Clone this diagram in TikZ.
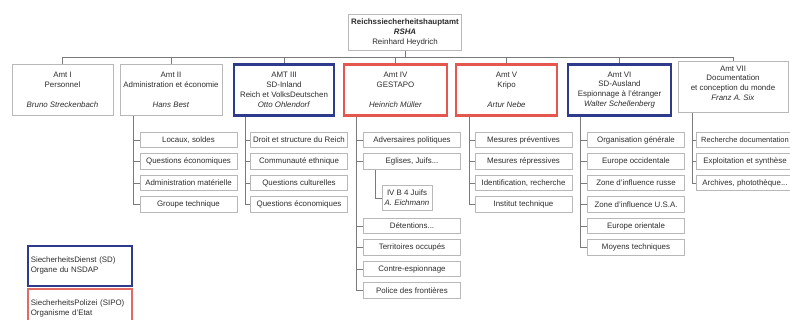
\documentclass[tikz,border=0pt]{standalone}
\usepackage{fontspec}
\setmainfont{Liberation Sans}
\usetikzlibrary{calc}
\definecolor{sdblue}{HTML}{2E3A8C}
\definecolor{sipored}{HTML}{E4574F}
\definecolor{legred}{HTML}{E06A66}
\definecolor{boxgray}{HTML}{B8B8B8}
\definecolor{linegray}{HTML}{7A7A7A}
\definecolor{txt}{HTML}{2E2E2E}
\begin{document}
\begin{tikzpicture}[x=1pt,y=-1pt,
  every node/.style={font=\fontsize{7.9}{9.8}\selectfont, text=txt},
  graybox/.style={draw=boxgray, line width=0.9pt, fill=white, inner sep=0pt, align=center},
  amtbox/.style={graybox, minimum height=51pt},
  sdbox/.style={amtbox, draw=sdblue, line width=2.2pt},
  sipobox/.style={amtbox, draw=sipored, line width=2.2pt},
  itembox/.style={graybox, minimum width=97pt, minimum height=15.5pt},
  conn/.style={draw=linegray, line width=0.8pt},
]
\useasboundingbox (0,0) rectangle (790,320);
\clip (0,0) rectangle (790,320);
\fill[white] (0,0) rectangle (790,320);

% top
\node[graybox, minimum width=113pt, minimum height=36pt] (top) at (405,32.5)
  {\textbf{Reichssiecherheitshauptamt}\\\textbf{\textit{RSHA}}\\Reinhard Heydrich};

% Amt boxes
\node[amtbox, minimum width=101pt] (amt1) at (62.5,90)
  {Amt I\\Personnel\\\mbox{}\\\textit{Bruno Streckenbach}};
\node[amtbox, minimum width=102pt] (amt2) at (171,90)
  {Amt II\\Administration et économie\\\mbox{}\\\textit{Hans Best}};
\node[sdbox, minimum width=100pt] (amt3) at (284,90)
  {AMT III\\SD-Inland\\Reich et VolksDeutschen\\\textit{Otto Ohlendorf}};
\node[sipobox, minimum width=103pt] (amt4) at (395.5,90)
  {Amt IV\\GESTAPO\\\mbox{}\\\textit{Heinrich Müller}};
\node[sipobox, minimum width=101pt] (amt5) at (506.5,90)
  {Amt V\\Kripo\\\mbox{}\\\textit{Artur Nebe}};
\node[sdbox, minimum width=103pt] (amt6) at (619.5,90)
  {Amt VI\\SD-Ausland\\Espionnage à l'étranger\\\textit{Walter Schellenberg}};
\node[amtbox, minimum width=110pt, text depth=8pt] (amt7) at (733,87)
  {Amt VII\\Documentation\\et conception du monde\\\textit{Franz A. Six}};

\coordinate (bus) at (403,57);
\foreach \a in {amt1,amt2,amt3,amt4,amt5,amt6,amt7}
  \draw[conn] (top.south) -- (top.south |- bus) -| (\a.north);

% column coordinates
\coordinate (c2) at (133,0);
\coordinate (c3) at (245,0);
\coordinate (c4) at (356,0);
\coordinate (c5) at (469,0);
\coordinate (c6) at (580,0);
\coordinate (c7) at (692,0);

% Amt II items
\node[itembox] (i21) at (188.5,140) {Locaux, soldes};
\node[itembox] (i22) at (188.5,161.5) {Questions économiques};
\node[itembox] (i23) at (188.5,183) {Administration matérielle};
\node[itembox] (i24) at (188.5,204.5) {Groupe technique};
% Amt III items
\node[itembox] (i31) at (299,140) {Droit et structure du Reich};
\node[itembox] (i32) at (299,161.5) {Communauté ethnique};
\node[itembox] (i33) at (299,183) {Questions culturelles};
\node[itembox] (i34) at (299,204.5) {Questions économiques};
% Amt IV items
\node[itembox] (i41) at (412,140) {Adversaires politiques};
\node[itembox] (i42) at (412,161.5) {Eglises, Juifs...};
\node[graybox, minimum width=50pt, minimum height=25pt] (ivb4) at (407,198)
  {IV B 4 Juifs\\\textit{A. Eichmann}};
\node[itembox] (i43) at (412,226) {Détentions...};
\node[itembox] (i44) at (412,247.5) {Territoires occupés};
\node[itembox] (i45) at (412,269) {Contre-espionnage};
\node[itembox] (i46) at (412,290.5) {Police des frontières};
% Amt V items
\node[itembox] (i51) at (523.5,140) {Mesures préventives};
\node[itembox] (i52) at (523.5,161.5) {Mesures répressives};
\node[itembox] (i53) at (523.5,183) {Identification, recherche};
\node[itembox] (i54) at (523.5,204.5) {Institut technique};
% Amt VI items
\node[itembox] (i61) at (636,140) {Organisation générale};
\node[itembox] (i62) at (636,161.5) {Europe occidentale};
\node[itembox] (i63) at (636,183) {Zone d'influence russe};
\node[itembox] (i64) at (636,204.5) {Zone d'influence U.S.A.};
\node[itembox] (i65) at (636,226) {Europe orientale};
\node[itembox] (i66) at (636,247.5) {Moyens techniques};
% Amt VII items
\node[itembox] (i71) at (745,140) {\fontsize{7.5}{9.8}\selectfont Recherche documentation};
\node[itembox] (i72) at (745,161.5) {Exploitation et synthèse};
\node[itembox] (i73) at (745,183) {Archives, photothèque...};

% column connectors
\draw[conn] (amt2.south -| c2) |- (i24.west);
\foreach \i in {i21,i22,i23} \draw[conn] (\i.west -| c2) -- (\i.west);
\draw[conn] (amt3.south -| c3) |- (i34.west);
\foreach \i in {i31,i32,i33} \draw[conn] (\i.west -| c3) -- (\i.west);
\draw[conn] (amt4.south -| c4) |- (i46.west);
\foreach \i in {i41,i42,i43,i44,i45} \draw[conn] (\i.west -| c4) -- (\i.west);
\draw[conn] (amt5.south -| c5) |- (i54.west);
\foreach \i in {i51,i52,i53} \draw[conn] (\i.west -| c5) -- (\i.west);
\draw[conn] (amt6.south -| c6) |- (i66.west);
\foreach \i in {i61,i62,i63,i64,i65} \draw[conn] (\i.west -| c6) -- (\i.west);
\draw[conn] (amt7.south -| c7) |- (i73.west);
\foreach \i in {i71,i72} \draw[conn] (\i.west -| c7) -- (\i.west);
\coordinate (c42) at (375,0);
\draw[conn] (i42.south -| c42) |- (ivb4.west);

% legend
\node[draw=sdblue, line width=1.6pt, fill=white, anchor=north west, text width=98pt,
  align=left, inner sep=3pt, minimum height=40pt] (legsd) at (27,245)
  {SiecherheitsDienst (SD)\\Organe du NSDAP};
\node[draw=legred, line width=1.7pt, fill=white, anchor=north west, text width=98pt,
  align=left, inner sep=3pt, minimum height=38pt, text depth=10pt] (legsipo) at (27,288)
  {SiecherheitsPolizei (SIPO)\\Organisme d'Etat};
\end{tikzpicture}
\end{document}
